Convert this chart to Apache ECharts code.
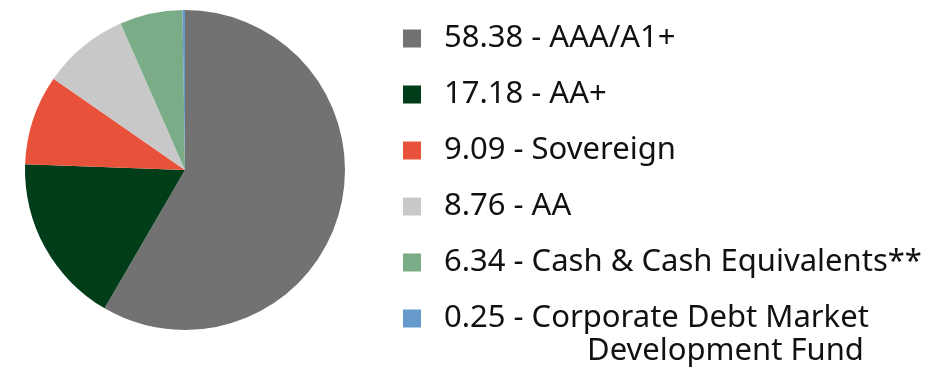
<!DOCTYPE html>
<html><head><meta charset="utf-8">
<script src="https://cdn.jsdelivr.net/npm/echarts@6/dist/echarts.min.js"></script>
<style>html,body{margin:0;padding:0;background:#fff}#c{width:936px;height:373px}</style>
</head><body><div id="c"></div>
<script>
const categories = ['AAA/A1+', 'AA+', 'Sovereign', 'AA', 'Cash & Cash Equivalents**', 'Corporate Debt Market'];
const values = [58.38, 17.18, 9.09, 8.76, 6.34, 0.25];
const colors = ['#737272', '#003d18', '#e9523a', '#c8c8c8', '#7bac88', '#6699cc'];
const extraLine = 'Development Fund';

const chart = echarts.init(document.getElementById('c'));
const font = 'Noto Sans';
chart.setOption({
  animation: false,
  color: colors,
  legend: {
    orient: 'vertical',
    left: 398,
    top: 18,
    icon: 'rect',
    itemWidth: 18,
    itemHeight: 18,
    itemGap: 25,
    selectedMode: false,
    formatter: function (name) {
      const i = categories.indexOf(name);
      return values[i].toFixed(2) + ' - ' + name;
    },
    textStyle: { fontFamily: font, fontSize: 31, color: '#111', lineHeight: 30, padding: [0, 0, 0, 18] }
  },
  graphic: [{
    type: 'text', left: 587, top: 336,
    style: { text: extraLine, font: '31px "Noto Sans"', fill: '#111' }
  }],
  series: [{
    type: 'pie',
    center: [185, 170],
    radius: 160,
    startAngle: 90,
    clockwise: true,
    label: { show: false },
    labelLine: { show: false },
    emphasis: { disabled: true },
    itemStyle: { borderWidth: 0 },
    data: categories.map((c, i) => ({ name: c, value: values[i] }))
  }]
});
</script></body></html>
